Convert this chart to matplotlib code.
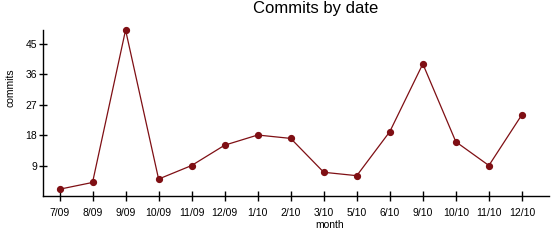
import matplotlib
matplotlib.use('Agg')
import matplotlib.pyplot as plt

# Commits per month
months = ['7/09', '8/09', '9/09', '10/09', '11/09', '12/09', '1/10', '2/10',
          '3/10', '5/10', '6/10', '9/10', '10/10', '11/10', '12/10']
commits = [2, 4, 49, 5, 9, 15, 18, 17, 7, 6, 19, 39, 16, 9, 24]
yticks = [9, 18, 27, 36, 45]

plt.rcParams['font.family'] = ['Liberation Sans', 'DejaVu Sans']

W, H = 559, 240
fig = plt.figure(figsize=(W / 100, H / 100), dpi=100)
ax = fig.add_axes([43 / W, 1 - 196 / H, (549 - 43) / W, (196 - 30) / H])

x = list(range(len(months)))
ax.plot(x, commits, color='#7f0f14', linewidth=0.9,
        marker='o', markersize=4.2, markerfacecolor='#7f0f14',
        markeredgecolor='#7f0f14', clip_on=False)

ax.set_xlim(-0.5, 14.82)
ax.set_ylim(0, 49)
ax.set_xticks(x)
ax.set_xticklabels(months)
ax.set_yticks(yticks)

for s in ['top', 'right']:
    ax.spines[s].set_visible(False)
for s in ['left', 'bottom']:
    ax.spines[s].set_linewidth(1)
ax.tick_params(axis='both', direction='inout', length=7, width=1,
               labelsize=7.5, pad=4)
ax.tick_params(axis='y', length=6, pad=1)
ax.tick_params(axis='x', pad=5)

fig.text(316 / W, 1 - 8 / H, 'Commits by date', ha='center', va='center',
         fontsize=12)
fig.text(330 / W, 1 - 225 / H, 'month', ha='center', va='center',
         fontsize=7.5)
fig.text(10 / W, 1 - 88 / H, 'commits', ha='center', va='center',
         rotation=90, fontsize=7.5)

fig.savefig('out.png', dpi=100)
